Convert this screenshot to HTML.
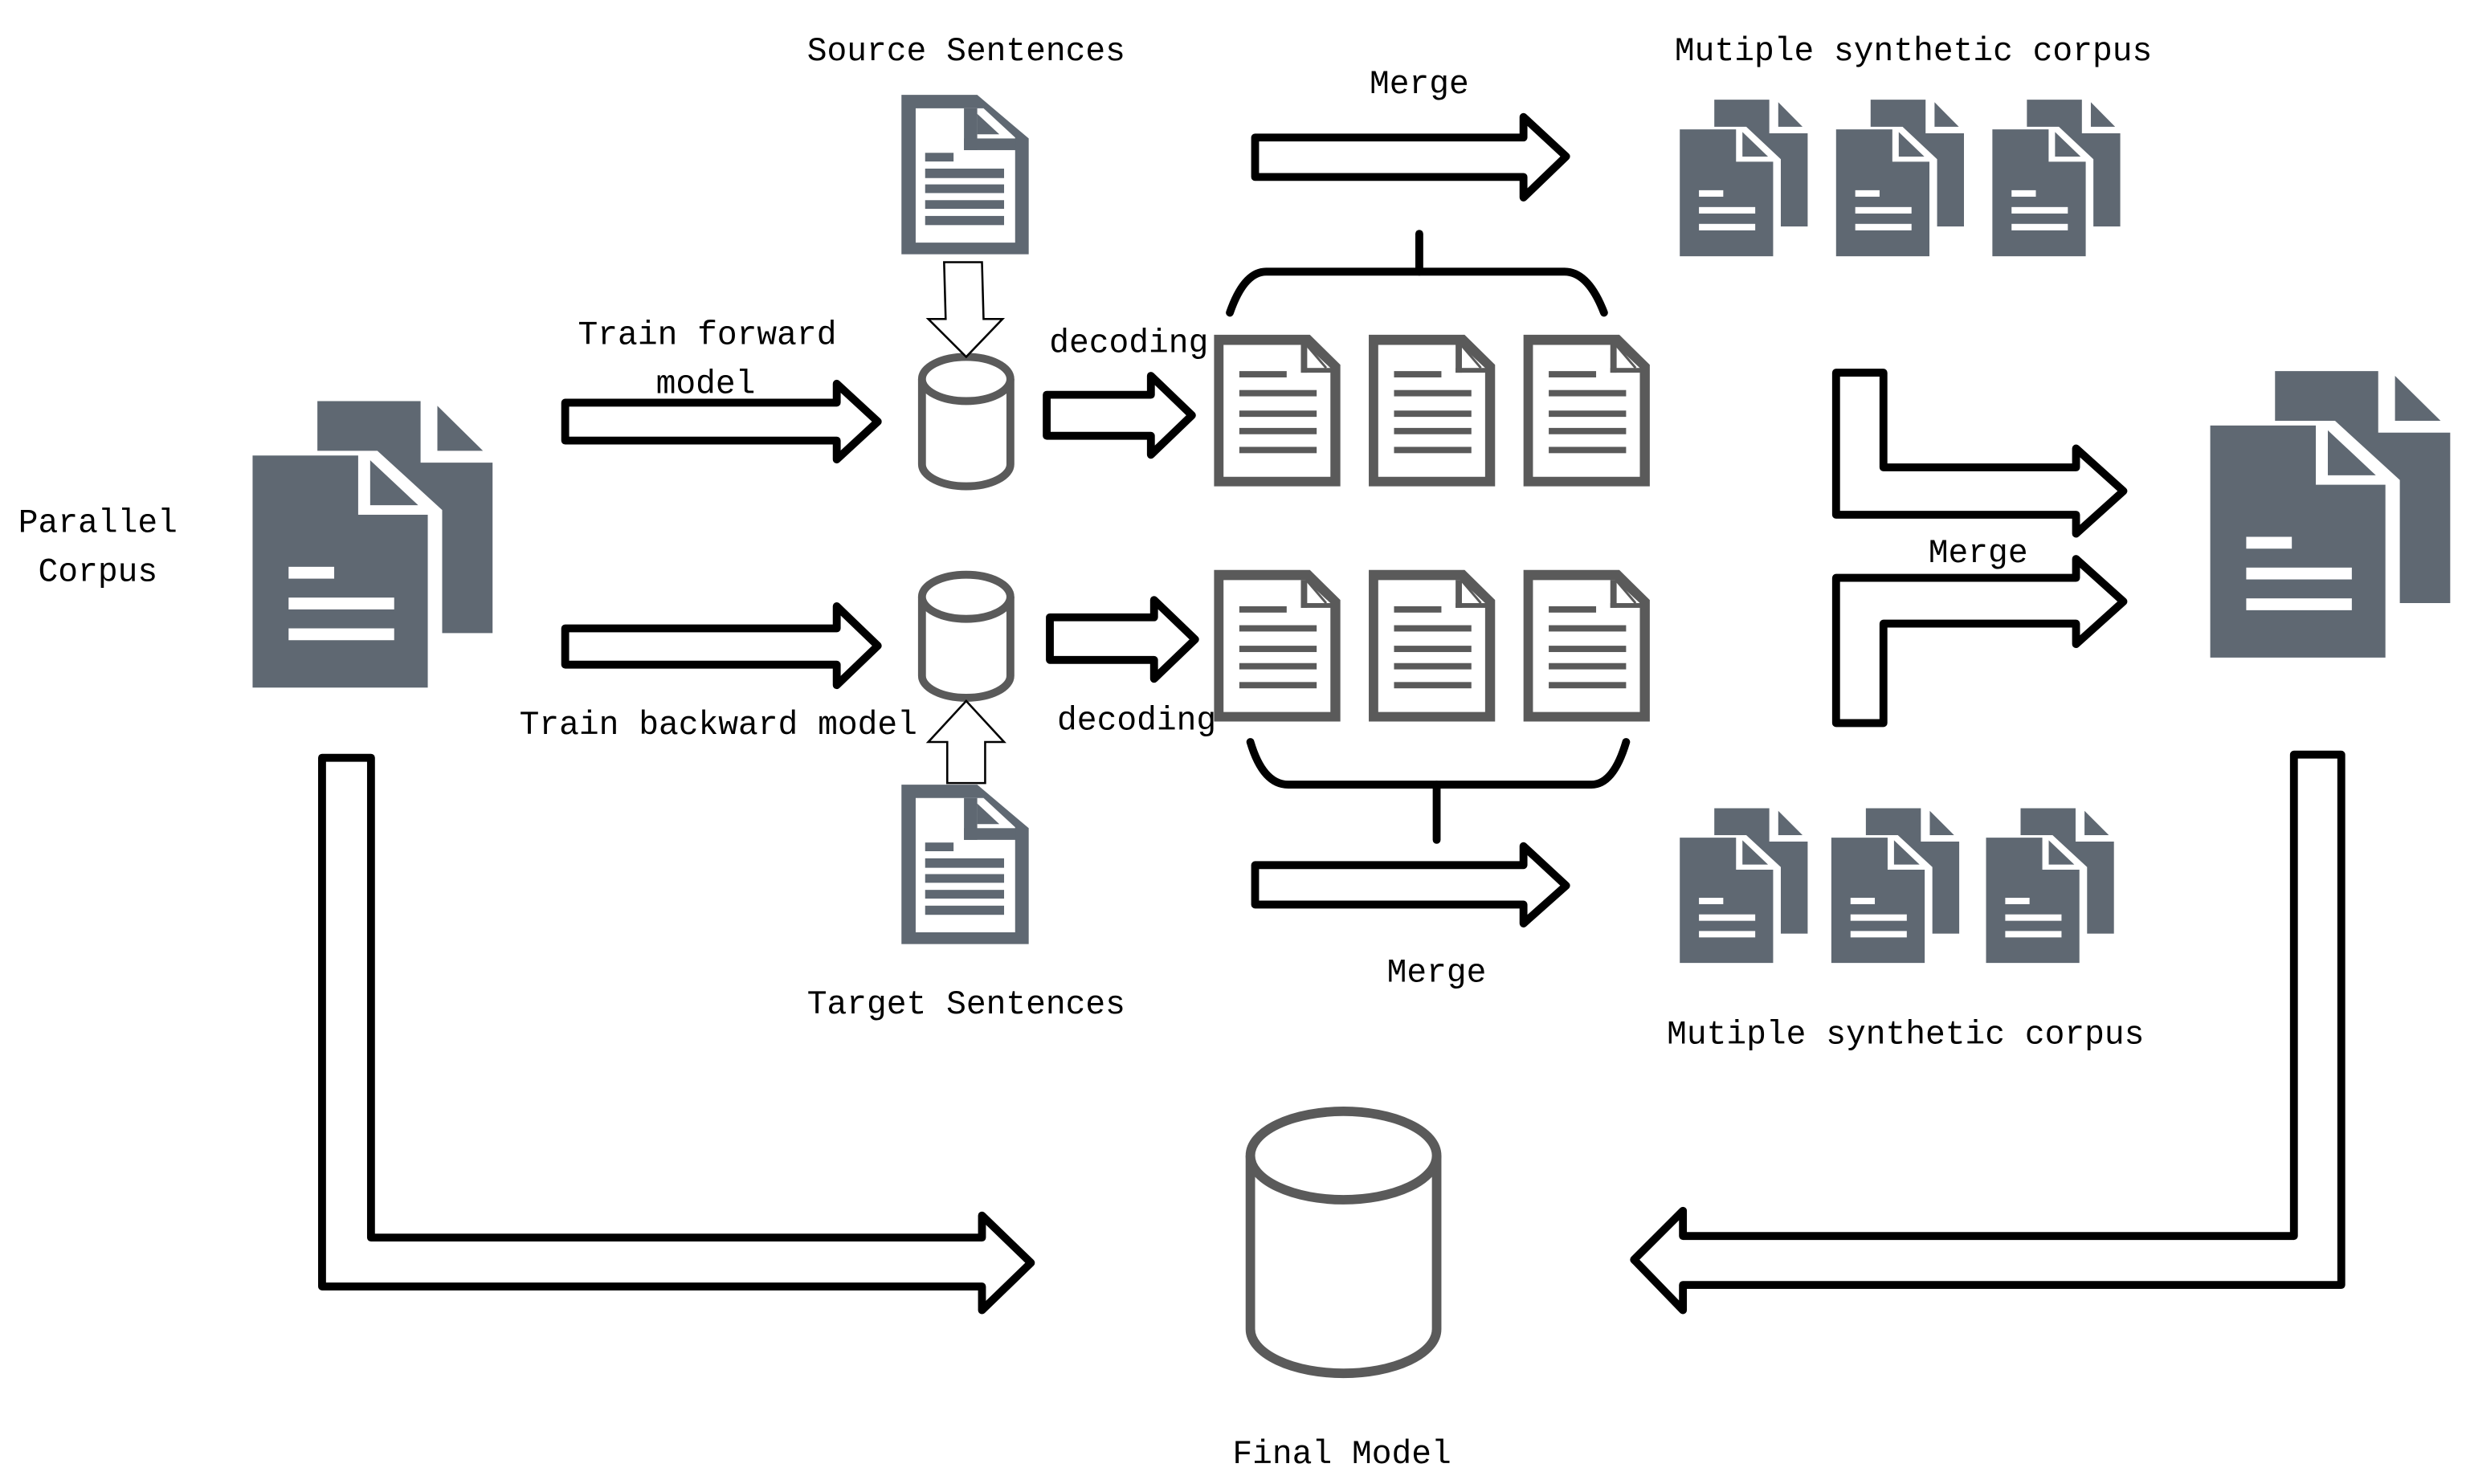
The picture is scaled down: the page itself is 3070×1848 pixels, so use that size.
<!DOCTYPE html>
<html><head><meta charset="utf-8"><style>
html,body{margin:0;padding:0;background:#fff;}
svg{display:block;}
text{font-family:"Liberation Mono","DejaVu Sans Mono",monospace;font-size:21px;fill:#000;text-anchor:middle;}
</style></head><body>
<svg width="3070" height="1848" viewBox="0 0 1562 940" xmlns="http://www.w3.org/2000/svg">
<defs>
<g id="dd">
  <polygon points="27,0 70,0 70,26 100,26 100,98 27,98" fill="#5f6872"/>
  <polygon points="77,2 96,21 77,21" fill="#5f6872"/>
  <polygon points="-2,21 52,21 79,46 79,124 -2,124" fill="#fff"/>
  <polygon points="0,23 44,23 44,48 73,48 73,121 0,121" fill="#5f6872"/>
  <polygon points="49,25 69,44 49,44" fill="#5f6872"/>
  <rect x="15" y="70" width="19" height="5" fill="#fff"/>
  <rect x="15" y="83" width="44" height="5" fill="#fff"/>
  <rect x="15" y="96" width="44" height="5" fill="#fff"/>
</g>
<g id="sdoc">
  <polygon points="0,0 48,0 80.6,27.6 80.6,101 0,101" fill="#5f6872"/>
  <polygon points="9,8.5 52,8.5 72,27 72,93.6 9,93.6" fill="#fff"/>
  <rect x="39.6" y="8.5" width="8.4" height="26.5" fill="#5f6872"/>
  <rect x="39.6" y="27.6" width="33" height="7.4" fill="#5f6872"/>
  <polygon points="48,12 62,25 48,25" fill="#5f6872"/>
  <rect x="15" y="36.7" width="18" height="5.5" fill="#5f6872"/>
  <rect x="15" y="46.7" width="50" height="6" fill="#5f6872"/>
  <rect x="15" y="56.7" width="50" height="5.5" fill="#5f6872"/>
  <rect x="15" y="66.7" width="50" height="5.5" fill="#5f6872"/>
  <rect x="15" y="76.7" width="50" height="5.8" fill="#5f6872"/>
</g>
<g id="gdoc">
  <polygon points="0,0 60.7,0 80,19 80,96 0,96" fill="#5a5a5a"/>
  <polygon points="6,6.4 58,6.4 73.7,21 73.7,90 6,90" fill="#fff"/>
  <rect x="55" y="6.4" width="4" height="17.6" fill="#5a5a5a"/>
  <rect x="55" y="21" width="19" height="3" fill="#5a5a5a"/>
  <line x1="59" y1="7" x2="71" y2="21" stroke="#5a5a5a" stroke-width="1.5"/>
  <rect x="16" y="23" width="30" height="4" fill="#5a5a5a"/>
  <rect x="16" y="35" width="49" height="4" fill="#5a5a5a"/>
  <rect x="16" y="48" width="49" height="4" fill="#5a5a5a"/>
  <rect x="16" y="59" width="49" height="4" fill="#5a5a5a"/>
  <rect x="16" y="71" width="49" height="4" fill="#5a5a5a"/>
</g>
</defs>

<!-- texts -->
<text x="612" y="38">Source Sentences</text>
<text x="899" y="59">Merge</text>
<text x="1212" y="38">Mutiple synthetic corpus</text>
<text x="448" y="218">Train forward</text>
<text x="447" y="249">model</text>
<text x="715" y="223">decoding</text>
<text x="62" y="337">Parallel</text>
<text x="62" y="368">Corpus</text>
<text x="455" y="465">Train backward model</text>
<text x="720" y="462">decoding</text>
<text x="1253" y="356">Merge</text>
<text x="910" y="622">Merge</text>
<text x="612" y="642">Target Sentences</text>
<text x="1207" y="661">Mutiple synthetic corpus</text>
<text x="850" y="927">Final Model</text>

<!-- big doc icons -->
<use href="#dd" transform="translate(160,254) scale(1.52,1.5)"/>
<use href="#dd" transform="translate(1400,235) scale(1.52,1.5)"/>
<use href="#dd" transform="translate(1064,63) scale(0.81,0.82)"/>
<use href="#dd" transform="translate(1163,63) scale(0.81,0.82)"/>
<use href="#dd" transform="translate(1262,63) scale(0.81,0.82)"/>
<use href="#dd" transform="translate(1064,512) scale(0.81,0.81)"/>
<use href="#dd" transform="translate(1160,512) scale(0.81,0.81)"/>
<use href="#dd" transform="translate(1258,512) scale(0.81,0.81)"/>

<use href="#sdoc" transform="translate(571,60)"/>
<use href="#sdoc" transform="translate(571,497)"/>

<use href="#gdoc" transform="translate(769,212)"/>
<use href="#gdoc" transform="translate(867,212)"/>
<use href="#gdoc" transform="translate(965,212)"/>
<use href="#gdoc" transform="translate(769,361)"/>
<use href="#gdoc" transform="translate(867,361)"/>
<use href="#gdoc" transform="translate(965,361)"/>

<!-- cylinders -->
<g fill="#fff" stroke="#5a5a5a" stroke-width="5">
  <path d="M584,240 V294 A28,14 0 0 0 640,294 V240"/>
  <ellipse cx="612" cy="240" rx="28" ry="14"/>
  <path d="M584,378 V428 A28,14 0 0 0 640,428 V378"/>
  <ellipse cx="612" cy="378" rx="28" ry="14"/>
</g>
<g fill="#fff" stroke="#5a5a5a" stroke-width="6">
  <path d="M792,732 V842 A59,28 0 0 0 910,842 V732"/>
  <ellipse cx="851" cy="732" rx="59" ry="28"/>
</g>

<!-- thin hollow arrows -->
<g fill="#fff" stroke="#000" stroke-width="1.3">
  <polygon points="598,166 622,166 623,202 635,202 612,226 588,202 599,202"/>
  <polygon points="600,496 624,496 624,470 636,470 612,444 588,470 600,470"/>
</g>

<!-- thick hollow arrows -->
<g fill="#fff" stroke="#000" stroke-width="5" stroke-linejoin="round">
  <polygon points="358,255 530,255 530,243 556,267 530,291 530,279 358,279"/>
  <polygon points="358,398 530,398 530,384 556,409 530,434 530,421 358,421"/>
  <polygon points="663,250 729,250 729,238 755,263 729,288 729,276 663,276"/>
  <polygon points="665,391 731,391 731,380 757,405 731,430 731,418 665,418"/>
  <polygon points="795,87 965,87 965,74 992,99 965,125 965,112 795,112"/>
  <polygon points="795,548 965,548 965,536 992,561 965,585 965,573 795,573"/>
  <polygon points="1163,236 1193,236 1193,296 1315,296 1315,284 1345,311 1315,338 1315,326 1163,326"/>
  <polygon points="1163,458 1163,366 1315,366 1315,354 1345,381 1315,408 1315,395 1193,395 1193,458"/>
  <polygon points="204,480 235,480 235,784 622,784 622,770 653,800 622,830 622,815 204,815"/>
  <polygon points="1453,478 1483,478 1483,814 1066,814 1066,830 1035,798 1066,767 1066,783 1453,783"/>
</g>

<!-- braces -->
<g fill="none" stroke="#000" stroke-width="5" stroke-linecap="round">
  <path d="M779,198 Q788,172 802,172 H991 Q1006,172 1016,198"/>
  <line x1="899" y1="148" x2="899" y2="172"/>
  <path d="M792,470 Q800,497 816,497 H1008 Q1022,497 1030,470"/>
  <line x1="910" y1="497" x2="910" y2="532"/>
</g>
</svg>
</body></html>
